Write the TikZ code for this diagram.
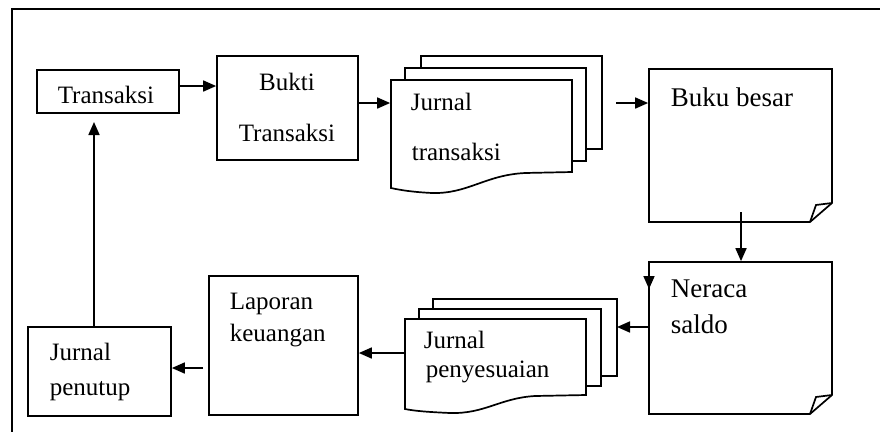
\documentclass[tikz,border=0pt]{standalone}
\usepackage{fontspec}
\setmainfont{Liberation Serif}
\usetikzlibrary{arrows.meta,fit}
\begin{document}
\begin{tikzpicture}[x=1pt,y=-1pt,
  line width=1.7pt, line join=miter,
  box/.style={draw, inner sep=0pt},
  area/.style={inner sep=0pt},
  lbl/.style={inner sep=0pt, font=\fontsize{25}{30}\selectfont},
  biglbl/.style={inner sep=0pt, font=\fontsize{27}{32}\selectfont},
  arr/.style={-{Triangle[length=13pt,width=11pt]}}]
\useasboundingbox (0,0) rectangle (880,432);

% outer frame (top and left edges)
\draw[line width=1.4pt] (880,9) -- (12,9) -- (12,432);

% plain boxes
\node[box, fit={(37,70) (179,113)}] (trans) {};
\node[box, fit={(217,56) (358,160)}] (bukti) {};
\node[box, fit={(209,276) (358,415)}] (lapor) {};
\node[box, fit={(28,327) (171,416)}] (tutup) {};

% multi-page document: Jurnal transaksi
\node[area, fit={(391,80) (572,188)}] (jtrans) {};
\draw (421,68) -- (421,56) -- (602,56) -- (602,149) -- (586,149);
\draw (405,80) -- (405,68) -- (586,68) -- (586,161) -- (572,161);
\draw (391,80) -- (572,80) -- (572,172) -- (525,173)
  .. controls (485,175) and (468,194) .. (432,193)
  .. controls (412,192) and (400,190) .. (391,188) -- cycle;

% multi-page document: Jurnal penyesuaian
\node[area, fit={(405,319) (586,410)}] (jpeny) {};
\draw (433,309) -- (433,299) -- (617,299) -- (617,376) -- (601,376);
\draw (419,319) -- (419,309) -- (601,309) -- (601,386) -- (586,386);
\draw (405,319) -- (586,319) -- (586,395) -- (535,396)
  .. controls (500,398) and (485,414) .. (450,413)
  .. controls (428,412) and (415,411) .. (405,409) -- cycle;

% pages with a turned-down corner
\node[area, fit={(649,69) (832,222)}] (buku) {};
\draw (649,69) -- (832,69) -- (832,203) -- (810,222) -- (649,222) -- cycle;
\draw (810,222) -- (816,205) -- (832,203);

\node[area, fit={(649,262) (832,414)}] (neraca) {};
\draw (649,262) -- (832,262) -- (832,395) -- (810,414) -- (649,414) -- cycle;
\draw (810,414) -- (816,397) -- (832,395);

% labels
\node[lbl, anchor=base] (tTrans) at (106,103) {Transaksi};
\node[lbl, anchor=base] (tBukti1) at (287,90) {Bukti};
\node[lbl, anchor=base] (tBukti2) at (287,141) {Transaksi};
\node[lbl, anchor=base west] (tJt1) at (410,110) {Jurnal};
\node[lbl, anchor=base west] (tJt2) at (411,160) {transaksi};
\node[biglbl, anchor=base west] (tBuku) at (670,106) {Buku besar};
\node[biglbl, anchor=base west] (tNer1) at (670,297) {Neraca};
\node[biglbl, anchor=base west] (tNer2) at (670,333) {saldo};
\node[lbl, anchor=base west] (tJp1) at (423,348) {Jurnal};
\node[lbl, anchor=base west] (tJp2) at (425,377) {penyesuaian};
\node[lbl, anchor=base west] (tLap1) at (229,309) {Laporan};
\node[lbl, anchor=base west] (tLap2) at (229,341) {keuangan};
\node[lbl, anchor=base west] (tTut1) at (49,360) {Jurnal};
\node[lbl, anchor=base west] (tTut2) at (49,395) {penutup};

% free ends of connectors
\coordinate (jtOut) at (616,103);
\coordinate (bukuOut) at (741,212);
\coordinate (lapOut) at (203,368);
\coordinate (tutIn) at (94,122);
\coordinate (nerMarkA) at (649,274);
\coordinate (nerMarkB) at (649,289);

% connectors
\draw[arr] (trans.east |- 0,86) -- (bukti.west |- 0,86);
\draw[arr] (bukti.east |- 0,103) -- (jtrans.west |- 0,103);
\draw[arr] (jtOut) -- (buku.west |- jtOut);
\draw[arr] (bukuOut) -- (bukuOut |- neraca.north);
\draw[arr] (neraca.west |- 0,327) -- (617,327);
\draw[arr] (jpeny.west |- 0,353) -- (lapor.east |- 0,353);
\draw[arr] (lapOut) -- (tutup.east |- lapOut);
\draw[arr] (tutup.north -| tutIn) -- (tutIn);
\draw[arr] (nerMarkA) -- (nerMarkB);
\end{tikzpicture}
\end{document}
